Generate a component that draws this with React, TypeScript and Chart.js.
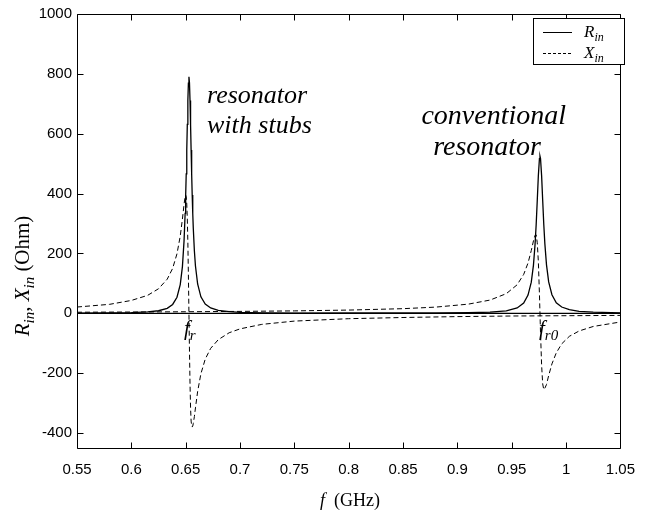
import React, { useEffect, useRef } from 'react';
import { Chart, registerables } from 'chart.js';

Chart.register(...registerables);

// ---- data ----
const xTicks = [0.55, 0.6, 0.65, 0.7, 0.75, 0.8, 0.85, 0.9, 0.95, 1, 1.05];
const xTickLabels = ['0.55', '0.6', '0.65', '0.7', '0.75', '0.8', '0.85', '0.9', '0.95', '1', '1.05'];
const yTicks = [-400, -200, 0, 200, 400, 600, 800, 1000];
const yTickLabels = ['-400', '-200', '0', '200', '400', '600', '800', '1000'];

// resonator with stubs
const freqStubs = [0.55, 0.58, 0.6, 0.615, 0.625, 0.633, 0.638, 0.642, 0.645, 0.647, 0.6485, 0.6495, 0.65, 0.6505, 0.651, 0.6515, 0.652, 0.6525, 0.653, 0.6535, 0.654, 0.6545, 0.655, 0.6555, 0.656, 0.6565, 0.657, 0.658, 0.659, 0.661, 0.664, 0.668, 0.673, 0.68, 0.69, 0.7, 0.72, 0.75, 0.8, 0.85, 0.9, 0.95, 1.0, 1.05];
const rStubs = [0.6, 1.2, 2.3, 4.6, 8.6, 16.8, 29.6, 53.7, 95.9, 156, 242, 334, 395, 466, 546, 631, 711, 769, 790, 769, 711, 631, 546, 466, 395, 334, 284, 209, 158, 98, 55, 31, 17.8, 10, 5.4, 3.4, 1.7, 0.9, 0.4, 0.2, 0.2, 0.1, 0.1, 0.1];
const xStubs = [21, 30, 43, 60, 82, 114, 150, 199, 258, 315, 364, 390, 395, 389, 365, 316, 237, 128, 0, -128, -237, -316, -360, -375, -380, -377, -368, -345, -316, -261, -202, -153, -117, -88, -65, -52, -37, -26, -18, -14, -11, -9, -8, -7];

// conventional resonator
const freqConv = [0.55, 0.6, 0.65, 0.7, 0.75, 0.8, 0.85, 0.88, 0.91, 0.93, 0.945, 0.955, 0.961, 0.965, 0.968, 0.97, 0.9715, 0.9725, 0.9735, 0.9745, 0.9755, 0.976, 0.9765, 0.9775, 0.9785, 0.9795, 0.9805, 0.982, 0.984, 0.987, 0.991, 0.996, 1.003, 1.012, 1.025, 1.05];
const rConv = [0, 0, 0, 0, 0.1, 0.2, 0.5, 0.8, 1.8, 3.8, 8.3, 18, 34, 61, 104, 161, 232, 297, 377, 460, 517, 525, 517, 460, 377, 297, 232, 162, 105, 62, 35, 21, 12, 6.6, 3.7, 1.6];
const xConv = [3.6, 4.3, 5.2, 6.4, 8.1, 10.8, 15.5, 20.7, 30.6, 44.2, 65.6, 95.4, 130, 168, 210, 242, 261, 262, 236, 173, 65, 0, -65, -173, -236, -255, -250, -238, -208, -169, -132, -102, -77, -59, -44, -29];

const pts = (xs: number[], ys: number[]) => xs.map((x, i) => ({ x, y: ys[i] }));

type Part = { t: string; i?: boolean; s?: boolean };
const SERIF = '"Liberation Serif", "Times New Roman", serif';
const SANS = '"Liberation Sans", Arial, sans-serif';

function richWidth(ctx: CanvasRenderingContext2D, parts: Part[], size: number) {
  let w = 0;
  for (const p of parts) {
    ctx.font = `${p.i ? 'italic ' : ''}${p.s ? Math.round(size * 0.72) : size}px ${SERIF}`;
    w += ctx.measureText(p.t).width;
  }
  return w;
}

function drawRich(ctx: CanvasRenderingContext2D, parts: Part[], x: number, y: number, size: number, align: 'left' | 'center' | 'right') {
  const w = richWidth(ctx, parts, size);
  let cx = align === 'left' ? x : align === 'center' ? x - w / 2 : x - w;
  ctx.textAlign = 'left';
  ctx.textBaseline = 'alphabetic';
  for (const p of parts) {
    ctx.font = `${p.i ? 'italic ' : ''}${p.s ? Math.round(size * 0.72) : size}px ${SERIF}`;
    ctx.fillText(p.t, cx, p.s ? y + size * 0.22 : y);
    cx += ctx.measureText(p.t).width;
  }
}

const framePlugin = {
  id: 'framePlugin',
  afterDraw(chart: any) {
    const { ctx, chartArea, scales } = chart;
    const { left, right, top, bottom } = chartArea;
    const xs = scales.x;
    const ys = scales.y;
    ctx.save();
    ctx.strokeStyle = '#000';
    ctx.fillStyle = '#000';
    ctx.lineWidth = 1;
    ctx.setLineDash([]);
    const L = Math.round(left) + 0.5;
    const R = Math.round(right) + 0.5;
    const T = Math.round(top) + 0.5;
    const B = Math.round(bottom) + 0.5;
    ctx.beginPath();
    ctx.rect(L, T, R - L, B - T);
    ctx.stroke();
    const tl = 6;
    ctx.beginPath();
    for (const v of xTicks) {
      const px = Math.round(xs.getPixelForValue(v)) + 0.5;
      ctx.moveTo(px, B); ctx.lineTo(px, B - tl);
      ctx.moveTo(px, T); ctx.lineTo(px, T + tl);
    }
    for (const v of yTicks) {
      const py = Math.round(ys.getPixelForValue(v)) + 0.5;
      ctx.moveTo(L, py); ctx.lineTo(L + tl, py);
      ctx.moveTo(R, py); ctx.lineTo(R - tl, py);
    }
    ctx.stroke();

    // legend
    const lx = 533.5, ly = 18.5, lw = 91, lh = 46;
    ctx.fillStyle = '#fff';
    ctx.fillRect(lx, ly, lw, lh);
    ctx.strokeRect(lx, ly, lw, lh);
    ctx.fillStyle = '#000';
    ctx.beginPath();
    ctx.moveTo(543, 32.5); ctx.lineTo(572, 32.5);
    ctx.stroke();
    ctx.setLineDash([3, 2]);
    ctx.beginPath();
    ctx.moveTo(543, 53.5); ctx.lineTo(572, 53.5);
    ctx.stroke();
    ctx.setLineDash([]);
    drawRich(ctx, [{ t: 'R', i: true }, { t: 'in', i: true, s: true }], 584, 37, 17, 'left');
    drawRich(ctx, [{ t: 'X', i: true }, { t: 'in', i: true, s: true }], 584, 58, 17, 'left');

    // annotations
    ctx.textAlign = 'left';
    ctx.textBaseline = 'alphabetic';
    ctx.font = `italic 26px ${SERIF}`;
    ctx.fillText('resonator', 207, 103);
    ctx.fillText('with stubs', 207, 133);
    ctx.font = `italic 28px ${SERIF}`;
    ctx.textAlign = 'right';
    ctx.fillText('conventional', 566, 124);
    ctx.fillText('resonator', 541, 155);
    ctx.textAlign = 'left';

    drawRich(ctx, [{ t: 'f', i: true }, { t: 'r', i: true, s: true }], 184, 335, 21, 'left');
    drawRich(ctx, [{ t: 'f', i: true }, { t: 'r0', i: true, s: true }], 539, 335, 21, 'left');

    // x title
    drawRich(ctx, [{ t: 'f', i: true }, { t: '  (GHz)' }], 350, 506, 18, 'center');

    // y title
    ctx.save();
    ctx.translate(29, 276);
    ctx.rotate(-Math.PI / 2);
    drawRich(ctx, [{ t: 'R', i: true }, { t: 'in', i: true, s: true }, { t: ', ' }, { t: 'X', i: true }, { t: 'in', i: true, s: true }, { t: ' (Ohm)' }], 0, 0, 21, 'center');
    ctx.restore();

    ctx.restore();
  },
};

export default function App() {
  const ref = useRef<HTMLCanvasElement>(null);
  useEffect(() => {
    if (!ref.current) return;
    const solid = { borderColor: '#000', borderWidth: 1.3, pointRadius: 0, fill: false, tension: 0 };
    const dashed = { borderColor: '#000', borderWidth: 1, pointRadius: 0, fill: false, tension: 0, borderDash: [5, 3] };
    const chart = new Chart(ref.current, {
      type: 'line',
      data: {
        datasets: [
          { label: 'Rin stubs', data: pts(freqStubs, rStubs), ...solid },
          { label: 'Xin stubs', data: pts(freqStubs, xStubs), ...dashed },
          { label: 'Rin conv', data: pts(freqConv, rConv), ...solid },
          { label: 'Xin conv', data: pts(freqConv, xConv), ...dashed },
        ] as any,
      },
      options: {
        animation: false,
        responsive: false,
        devicePixelRatio: 1,
        parsing: false as any,
        layout: { padding: { top: 12, right: 15, left: 0, bottom: 0 } },
        plugins: { legend: { display: false }, tooltip: { enabled: false }, title: { display: false } },
        scales: {
          x: {
            type: 'linear',
            min: 0.55,
            max: 1.05,
            grid: { display: false, drawTicks: false },
            border: { display: false },
            afterBuildTicks: (s: any) => { s.ticks = xTicks.map((v) => ({ value: v })); },
            afterFit: (s: any) => { s.height = 65; },
            ticks: {
              color: '#000',
              font: { family: SANS, size: 15 },
              padding: 13,
              maxRotation: 0,
              autoSkip: false,
              callback: (v: any) => { const i = xTicks.findIndex((t) => Math.abs(t - v) < 1e-9); return i >= 0 ? xTickLabels[i] : ''; },
            },
          },
          y: {
            type: 'linear',
            min: -450,
            max: 1000,
            grid: { display: false, drawTicks: false },
            border: { display: false },
            afterBuildTicks: (s: any) => { s.ticks = yTicks.map((v) => ({ value: v })); },
            afterFit: (s: any) => { s.width = 77; },
            ticks: {
              color: '#000',
              font: { family: SANS, size: 15 },
              padding: 5,
              autoSkip: false,
              callback: (v: any) => { const i = yTicks.indexOf(v); return i >= 0 ? yTickLabels[i] : ''; },
            },
          },
        },
      } as any,
      plugins: [framePlugin],
    });
    return () => chart.destroy();
  }, []);
  return (
    <div style={{ position: 'fixed', left: 0, top: 0, width: 648, height: 513, background: '#fff' }}>
      <canvas ref={ref} width={648} height={513} style={{ display: 'block', width: 648, height: 513 }} />
    </div>
  );
}
